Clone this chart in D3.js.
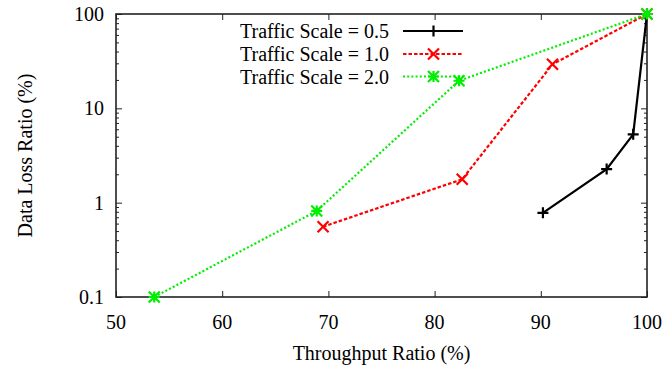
<!DOCTYPE html>
<html><head><meta charset="utf-8">
<script src="https://cdn.jsdelivr.net/npm/d3@7"></script>
</head><body style="margin:0"><svg id="c" width="667" height="371" style="display:block;background:#fff"></svg>
<script>
const xTicks = [50, 60, 70, 80, 90, 100];
const yTicks = [0.1, 1, 10, 100];
const yTickLabels = ["0.1", "1", "10", "100"];
const seriesNames = ["Traffic Scale = 0.5", "Traffic Scale = 1.0", "Traffic Scale = 2.0"];
const s05x = [90.2, 96.2, 98.7, 100];
const s05y = [0.78, 2.27, 5.3, 100];
const s10x = [69.5, 82.6, 91.1, 100];
const s10y = [0.556, 1.77, 29.3, 100];
const s20x = [53.6, 68.9, 82.3, 100];
const s20y = [0.1, 0.817, 19.6, 100];

const svg = d3.select("#c");
const L = 116, R = 647, T = 14, B = 297;
const x = d3.scaleLinear().domain([50, 100]).range([L, R]);
const y = d3.scaleLog().domain([0.1, 100]).range([B, T]);
const font = '"Times New Roman", Tinos, "Liberation Serif", serif';
const frame = "#222";

const minor = [];
for (let d = 0.1; d < 100; d *= 10) for (let k = 2; k <= 9; k++) minor.push(+(d * k).toPrecision(3));

const g = svg.append("g");
g.append("g").attr("transform", `translate(${L},0)`).call(d3.axisLeft(y).tickValues(yTicks).tickFormat("").tickSize(-6));
g.append("g").attr("transform", `translate(${R},0)`).call(d3.axisRight(y).tickValues(yTicks).tickFormat("").tickSize(-6));
g.append("g").attr("transform", `translate(${L},0)`).call(d3.axisLeft(y).tickValues(minor).tickFormat("").tickSize(-3));
g.append("g").attr("transform", `translate(${R},0)`).call(d3.axisRight(y).tickValues(minor).tickFormat("").tickSize(-3));
g.append("g").attr("transform", `translate(0,${B})`).call(d3.axisBottom(x).tickValues(xTicks).tickFormat("").tickSize(-6));
g.append("g").attr("transform", `translate(0,${T})`).call(d3.axisTop(x).tickValues(xTicks).tickFormat("").tickSize(-6));
g.selectAll(".domain").remove();
g.selectAll(".tick line").attr("stroke", frame).attr("stroke-width", 1);

function txt(xp, yp, anchor, s) {
  return svg.append("text").attr("x", xp).attr("y", yp).attr("text-anchor", anchor)
    .attr("font-size", 20).attr("font-family", font).style("font-family", font).text(s);
}
yTicks.forEach((v, i) => txt(L - 12, y(v) + 7, "end", yTickLabels[i]));
xTicks.forEach(v => txt(x(v), B + 32, "middle", String(v)));

svg.append("rect").attr("x", L).attr("y", T).attr("width", R - L).attr("height", B - T)
  .attr("fill", "none").attr("stroke", frame).attr("stroke-width", 1.6);

txt((L + R) / 2, 360, "middle", "Throughput Ratio (%)");
txt(0, 0, "middle", "Data Loss Ratio (%)").attr("transform", `translate(32,${(T + B) / 2}) rotate(-90)`);

const series = [
  {xs: s05x, ys: s05y, color: "#000", dash: null, marker: "plus"},
  {xs: s10x, ys: s10y, color: "#ff0000", dash: "3.5,2", marker: "cross"},
  {xs: s20x, ys: s20y, color: "#00ee00", dash: "2,2.2", marker: "star"},
];
function marker(sel, type, cx, cy, color) {
  const r = 5.5, p = [];
  if (type === "plus" || type === "star") { p.push(`M${cx - r},${cy}H${cx + r}M${cx},${cy - r}V${cy + r}`); }
  if (type === "cross" || type === "star") { p.push(`M${cx - r},${cy - r}L${cx + r},${cy + r}M${cx - r},${cy + r}L${cx + r},${cy - r}`); }
  sel.append("path").attr("d", p.join("")).attr("stroke", color).attr("stroke-width", 2.2).attr("fill", "none");
}
const line = d3.line().x(d => x(d[0])).y(d => y(d[1]));
series.forEach(s => {
  const pts = s.xs.map((v, i) => [v, s.ys[i]]);
  svg.append("path").datum(pts).attr("d", line).attr("fill", "none").attr("stroke", s.color)
    .attr("stroke-width", 2.2).attr("stroke-dasharray", s.dash);
});
series.forEach(s => {
  s.xs.forEach((v, i) => marker(svg, s.marker, x(v), y(s.ys[i]), s.color));
});

const legY = [31, 54, 76.5];
series.forEach((s, i) => {
  txt(389, legY[i] + 7, "end", seriesNames[i]);
  svg.append("line").attr("x1", 403).attr("x2", 463).attr("y1", legY[i]).attr("y2", legY[i])
    .attr("stroke", s.color).attr("stroke-width", 2.2).attr("stroke-dasharray", s.dash);
  marker(svg, s.marker, 433.5, legY[i], s.color);
});
</script></body></html>
